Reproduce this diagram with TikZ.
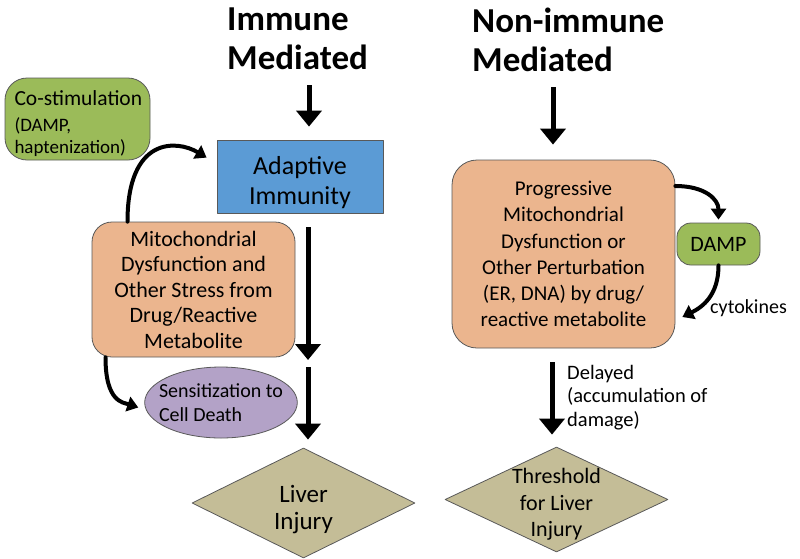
\documentclass[tikz,border=0pt]{standalone}
\usepackage{fontspec}
\setmainfont{Carlito}
\usetikzlibrary{arrows.meta,shapes.geometric,calc}
\definecolor{costim}{HTML}{9BBB59}
\definecolor{adaptblue}{HTML}{5B9BD5}
\definecolor{mitoorange}{HTML}{EBB58E}
\definecolor{senspurple}{HTML}{B3A2C7}
\definecolor{livertan}{HTML}{C4BD97}
\begin{document}
\begin{tikzpicture}[x=1pt,y=1pt,line join=round,
	big/.style={line width=5pt,-{Triangle[width=25pt,length=16pt]}},
	bendarrow/.style={line width=4pt,line cap=round,-{Triangle[width=15pt,length=11pt]}},
	box/.style={draw=black!65,line width=.8pt,inner sep=0pt,align=center},
	injury/.style={box,diamond,fill=livertan,shape aspect=2,minimum width=223pt},
	head/.style={anchor=north west,align=left,inner sep=0pt,font=\fontsize{35}{39}\selectfont\bfseries}]
	\useasboundingbox (0,0) rectangle (800,-558);
	% headings
	\node[head] (immh) at (227,-8) {Immune\\Mediated};
	\node[head] (nonh) at (472,-8) {Non-immune\\Mediated};
	% immune side
	\node[box,fill=costim,rounded corners=22pt,minimum width=145pt,minimum height=82pt,text width=126pt,align=left,font=\fontsize{19}{21.5}\selectfont] (cost) at (77.5,-119) {\rule{0pt}{24pt}\mbox{\fontsize{21.5}{22}\selectfont Co-stimulation}\\[5pt](DAMP,\\haptenization)};
	\node[box,fill=adaptblue,minimum width=166pt,minimum height=73pt,font=\fontsize{26}{30}\selectfont] (adapt) at (300,-176.5) {\rule{0pt}{30pt}Adaptive\\Immunity};
	\node[box,fill=mitoorange,rounded corners=20pt,minimum width=203pt,minimum height=135pt,font=\fontsize{22}{25.5}\selectfont] (mito) at (193.5,-289.5) {Mitochondrial\\Dysfunction and\\Other Stress from\\Drug/Reactive\\Metabolite};
	\node[box,ellipse,fill=senspurple,align=left,inner xsep=-8pt,inner ysep=3pt,minimum width=152pt,minimum height=71pt,font=\fontsize{20}{24}\selectfont] (sens) at (221,-402.5) {Sensitization to\\Cell Death};
	\node[injury,inner ysep=-5pt,minimum height=110pt,font=\fontsize{25}{27}\selectfont] (liver) at (303.5,-503) {\rule{0pt}{30pt}Liver\\Injury};
	% non-immune side
	\node[box,fill=mitoorange,rounded corners=25pt,minimum width=223pt,minimum height=188pt,font=\fontsize{21}{26.2}\selectfont] (prog) at (563.5,-254) {Progressive\\Mitochondrial\\Dysfunction or\\Other Perturbation\\(ER, DNA) by drug/\\reactive metabolite};
	\node[box,fill=costim,rounded corners=14pt,minimum width=83pt,minimum height=42pt,font=\fontsize{22}{24}\selectfont] (damp) at (718.5,-244) {DAMP};
	\node[anchor=base west,inner sep=0pt,font=\fontsize{20}{24}\selectfont] (cyto) at (710,-313) {cytokines};
	\node[anchor=north west,align=left,inner sep=0pt,font=\fontsize{20.5}{23.5}\selectfont] (delay) at (567,-365) {Delayed\\(accumulation of\\damage)};
	\node[injury,inner ysep=-16pt,minimum height=105pt,font=\fontsize{22}{26.5}\selectfont] (thr) at (556.5,-499.5) {\rule{0pt}{25pt}Threshold\\for Liver\\Injury};
	\coordinate (joinA) at (308,-360);
	\coordinate (joinB) at (308,-367);
	% arrows
	\draw[big,shorten <=15pt,shorten >=13pt] ([xshift=9pt]adapt.north |- immh.south) -- ([xshift=9pt]adapt.north);
	\draw[big,shorten <=15pt,shorten >=15pt] ([xshift=-10.5pt]prog.north |- nonh.south) -- ([xshift=-10.5pt]prog.north);
	\draw[big,shorten <=14pt] (joinA |- adapt.south) -- (joinA);
	\draw[big,shorten >=8pt] (joinB) -- (joinB |- liver.north);
	\draw[big,shorten <=14pt,shorten >=12pt] ([xshift=-11.5pt]prog.south) -- ([xshift=-11.5pt]prog.south |- thr.north);
	\draw[bendarrow] ([xshift=-66pt]mito.north) .. controls +(0,85) and +(-30,18) .. ($(adapt.north west)+(-10,-18)$);
	\draw[bendarrow] ([xshift=-88pt]mito.south) .. controls +(0,-45) and +(-15,5) .. ($(sens.west)+(-6,-5)$);
	\draw[bendarrow] ([yshift=68pt]prog.east) .. controls +(30,0) and +(0,20) .. ([yshift=3pt]damp.north);
	\draw[bendarrow] (damp.south) .. controls +(0,-30) and +(20,10) .. ([xshift=7pt,yshift=-63pt]prog.east);
\end{tikzpicture}
\end{document}
